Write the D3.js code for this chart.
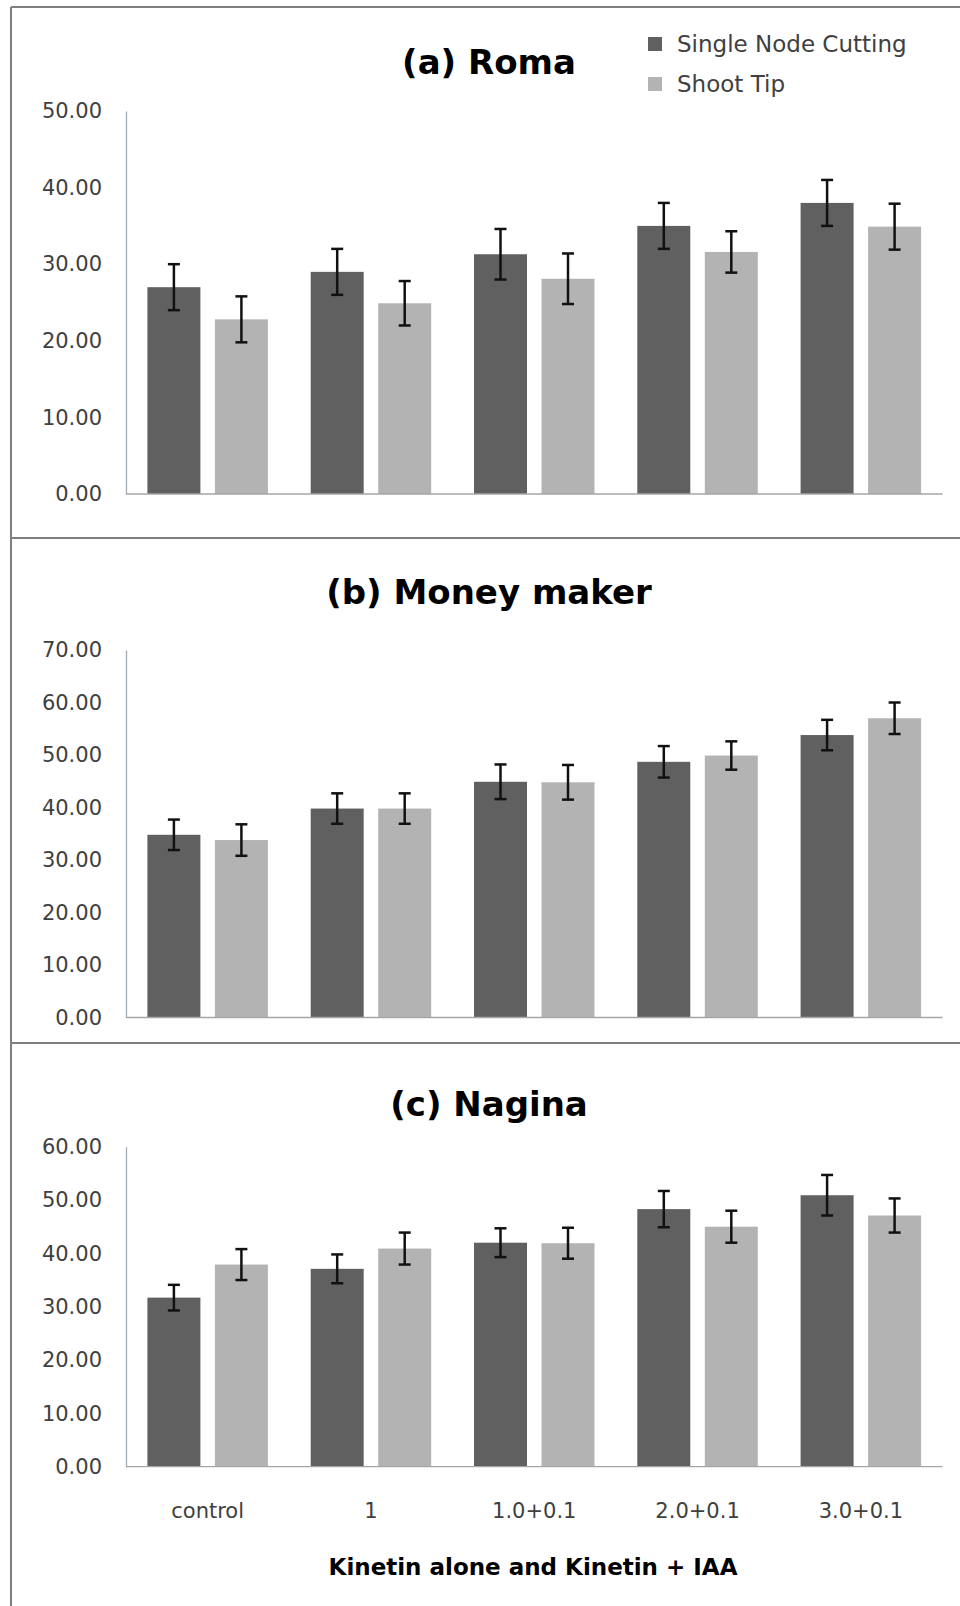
<!DOCTYPE html>
<html>
<head>
<meta charset="utf-8">
<script src="https://cdn.jsdelivr.net/npm/d3@7"></script>
<style>
  body { margin: 0; background: #fff; }
  svg { display: block; font-family: "DejaVu Sans", sans-serif; }
</style>
</head>
<body>
<svg id="chart"></svg>
<script>
const categories = ["control", "1", "1.0+0.1", "2.0+0.1", "3.0+0.1"];
const seriesNames = ["Single Node Cutting", "Shoot Tip"];

// (a) Roma
const romaNode = [27, 29, 31.3, 35, 38];
const romaNodeErr = [3, 3, 3.3, 3, 3];
const romaTip = [22.8, 24.9, 28.1, 31.6, 34.9];
const romaTipErr = [3, 2.9, 3.3, 2.7, 3];
const romaTicks = [0, 10, 20, 30, 40, 50];

// (b) Money maker
const moneyNode = [34.8, 39.8, 44.9, 48.7, 53.8];
const moneyNodeErr = [2.9, 2.9, 3.3, 3, 2.9];
const moneyTip = [33.8, 39.8, 44.8, 49.9, 57];
const moneyTipErr = [3, 2.9, 3.3, 2.7, 3];
const moneyTicks = [0, 10, 20, 30, 40, 50, 60, 70];

// (c) Nagina
const naginaNode = [31.7, 37.1, 42, 48.3, 50.9];
const naginaNodeErr = [2.4, 2.7, 2.7, 3.4, 3.8];
const naginaTip = [37.9, 40.9, 41.9, 45, 47.1];
const naginaTipErr = [2.9, 3, 2.9, 3, 3.2];
const naginaTicks = [0, 10, 20, 30, 40, 50, 60];

const xTitle = "Kinetin alone and Kinetin + IAA";

const width = 960;
const height = 1606;
const plotLeft = 126;
const plotRight = 942.5;
const colors = ["#606060", "#b3b3b3"];

const panels = [
  { title: "(a) Roma", node: romaNode, nodeErr: romaNodeErr, tip: romaTip, tipErr: romaTipErr,
    ticks: romaTicks, top: 111, base: 494, titleY: 74, showX: false },
  { title: "(b) Money maker", node: moneyNode, nodeErr: moneyNodeErr, tip: moneyTip, tipErr: moneyTipErr,
    ticks: moneyTicks, top: 650, base: 1017.5, titleY: 604, showX: false },
  { title: "(c) Nagina", node: naginaNode, nodeErr: naginaNodeErr, tip: naginaTip, tipErr: naginaTipErr,
    ticks: naginaTicks, top: 1146.7, base: 1466.7, titleY: 1116, showX: true },
];

const svg = d3.select("#chart").attr("width", width).attr("height", height);

svg.append("rect").attr("width", width).attr("height", height).attr("fill", "#fff");

// frame and panel dividers
svg.append("line").attr("x1", 11).attr("x2", 11).attr("y1", 7).attr("y2", height)
  .attr("stroke", "#7f7f7f").attr("stroke-width", 2);
svg.append("line").attr("x1", 11).attr("x2", width).attr("y1", 7).attr("y2", 7)
  .attr("stroke", "#7f7f7f").attr("stroke-width", 2);
[538, 1043].forEach((y) => {
  svg.append("line").attr("x1", 11).attr("x2", width).attr("y1", y).attr("y2", y)
    .attr("stroke", "#7f7f7f").attr("stroke-width", 2);
});

const xScale = d3.scaleBand().domain(categories).range([plotLeft, plotRight]);
const xSub = d3.scaleBand().domain(seriesNames).range([0, xScale.bandwidth()])
  .paddingInner(0.215).paddingOuter(0.317);
const fmt = d3.format(".2f");

panels.forEach((p) => {
  const yMax = d3.max(p.ticks);
  const yScale = d3.scaleLinear().domain([0, yMax]).range([p.base, p.top]);
  const g = svg.append("g");

  const rows = categories.map((c, i) => ({
    cat: c,
    values: [
      { s: seriesNames[0], v: p.node[i], e: p.nodeErr[i] },
      { s: seriesNames[1], v: p.tip[i], e: p.tipErr[i] },
    ],
  }));

  // y axis
  const yAxis = d3.axisLeft(yScale).tickValues(p.ticks).tickFormat(fmt)
    .tickSize(0).tickPadding(24);
  const ya = g.append("g").attr("transform", `translate(${plotLeft},0)`).call(yAxis);
  ya.select(".domain").attr("stroke", "#a3abb6").attr("stroke-width", 1.3);
  ya.selectAll("text").attr("fill", "#404040").style("font-size", "21px")
    .style("font-family", "DejaVu Sans");

  // bars
  const groups = g.selectAll(".grp").data(rows).join("g").classed("grp", true)
    .attr("transform", (d) => `translate(${xScale(d.cat)},0)`);
  groups.selectAll("rect").data((d) => d.values).join("rect")
    .attr("x", (d) => xSub(d.s))
    .attr("width", xSub.bandwidth())
    .attr("y", (d) => yScale(d.v))
    .attr("height", (d) => yScale(0) - yScale(d.v))
    .attr("fill", (d, i) => colors[i]);

  // error bars
  const eb = groups.selectAll(".err").data((d) => d.values).join("g").classed("err", true)
    .attr("transform", (d) => `translate(${xSub(d.s) + xSub.bandwidth() / 2},0)`)
    .attr("stroke", "#111").attr("stroke-width", 2.5);
  eb.append("line").attr("y1", (d) => yScale(d.v + d.e)).attr("y2", (d) => yScale(d.v - d.e));
  eb.append("line").attr("x1", -6).attr("x2", 6)
    .attr("y1", (d) => yScale(d.v + d.e)).attr("y2", (d) => yScale(d.v + d.e));
  eb.append("line").attr("x1", -6).attr("x2", 6)
    .attr("y1", (d) => yScale(d.v - d.e)).attr("y2", (d) => yScale(d.v - d.e));

  // x axis baseline (+ labels on the last panel)
  const xAxis = d3.axisBottom(xScale).tickSize(0).tickPadding(36)
    .tickFormat(p.showX ? (d) => d : () => "");
  const xa = g.append("g").attr("transform", `translate(0,${p.base})`).call(xAxis);
  xa.select(".domain").attr("stroke", "#a6a6a6").attr("stroke-width", 1.3)
    .attr("d", `M${plotLeft},0H${plotRight}`);
  xa.selectAll("text").attr("fill", "#404040").style("font-size", "21px")
    .style("font-family", "DejaVu Sans");

  // panel title
  g.append("text").attr("x", 489).attr("y", p.titleY)
    .attr("text-anchor", "middle").attr("fill", "#000")
    .style("font-family", "DejaVu Sans").style("font-weight", "bold").style("font-size", "34px")
    .text(p.title);
});

// legend
const legend = svg.append("g").selectAll("g").data(seriesNames).join("g")
  .attr("transform", (d, i) => `translate(648,${44 + i * 40})`);
legend.append("rect").attr("x", 0).attr("y", -7).attr("width", 14).attr("height", 14)
  .attr("fill", (d, i) => colors[i]);
legend.append("text").attr("x", 29).attr("y", 8).attr("fill", "#404040")
  .style("font-size", "23px").text((d) => d);

// x axis title
svg.append("text").attr("x", 533).attr("y", 1575).attr("text-anchor", "middle")
  .attr("fill", "#000").style("font-weight", "bold").style("font-size", "23px")
  .text(xTitle);
</script>
</body>
</html>
